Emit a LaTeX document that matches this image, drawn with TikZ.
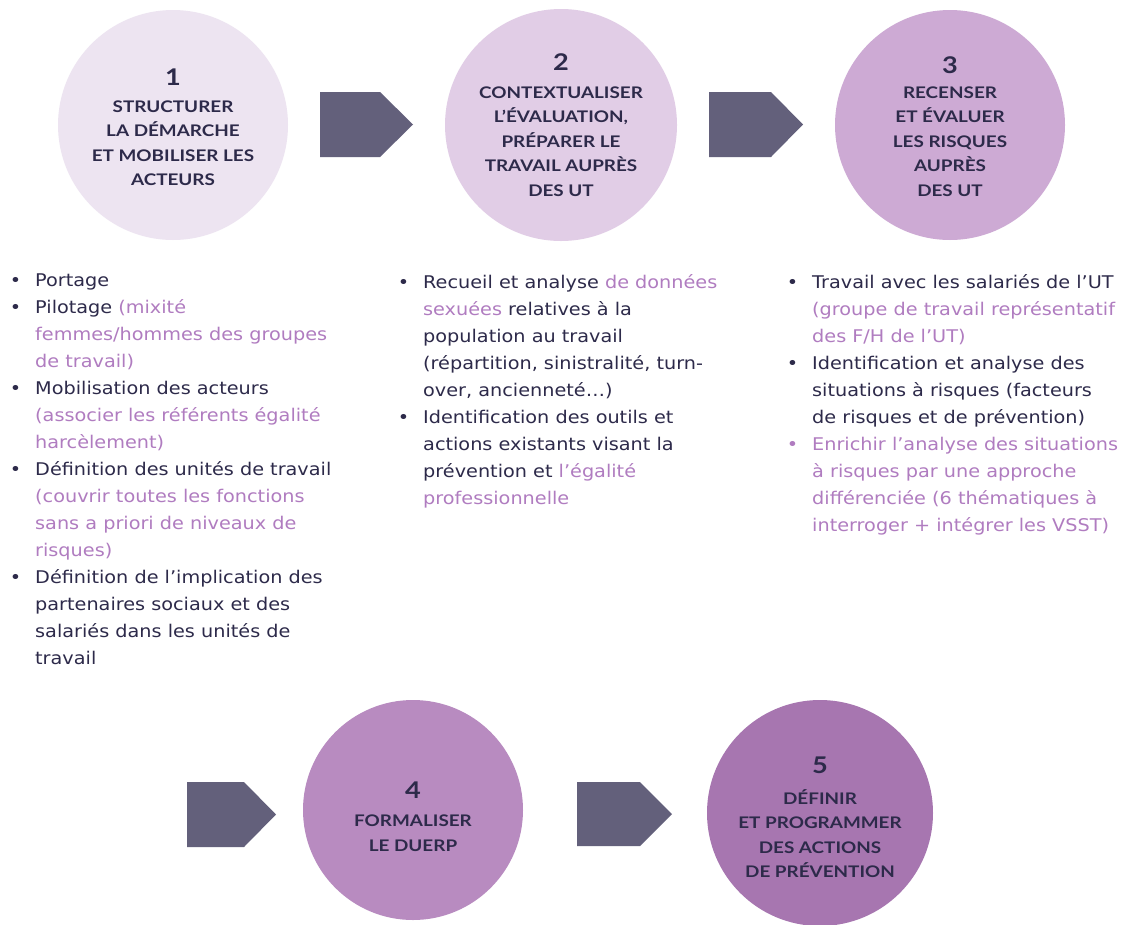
\documentclass[tikz,border=0pt]{standalone}
\usepackage{fontspec}
\setmainfont{Lato}
\newfontfamily\bodyfont{DejaVu Sans}[FakeStretch=1.1]
\newfontfamily\ttlfont{Lato}[FakeStretch=1.18]
\definecolor{cA}{HTML}{EDE4F1}
\definecolor{cB}{HTML}{E1CDE6}
\definecolor{cC}{HTML}{CDAAD4}
\definecolor{cD}{HTML}{B88BC0}
\definecolor{cE}{HTML}{A776B0}
\definecolor{arr}{HTML}{63607B}
\definecolor{dk}{HTML}{2D2A4A}
\definecolor{pk}{HTML}{B07CC0}
\newcommand\pk[1]{\textcolor{pk}{#1}}
\newcommand\bul{\makebox[0pt][r]{•\hspace{14pt}}}
\tikzset{
  disc/.style={circle, inner sep=0pt, minimum size=#1},
  num/.style={text=dk, font=\fontsize{23}{23}\selectfont\ttlfont\bfseries, inner sep=0pt},
  ttl/.style={text=dk, font=\fontsize{16}{24.5}\selectfont\ttlfont\bfseries, align=center, inner sep=0pt},
  lst/.style={text=dk, font=\fontsize{17.5}{27}\selectfont\bodyfont, align=left, inner sep=0pt, anchor=north west},
  chev/.style={fill=arr}
}
\begin{document}
\begin{tikzpicture}[x=1pt,y=-1pt]
\useasboundingbox (0,0) rectangle (1127,924);
\fill[white] (0,0) rectangle (1127,924);

% circles
\node[disc=230pt, fill=cA] (c1) at (173,125) {};
\node[disc=232pt, fill=cB] (c2) at (561,125) {};
\node[disc=230pt, fill=cC] (c3) at (950,125) {};
\node[disc=220pt, fill=cD] (c4) at (413,810) {};
\node[disc=226pt, fill=cE] (c5) at (820,813) {};

% numbers
\node[num] (n1) at (173,77) {1};
\node[num] (n2) at (561,62) {2};
\node[num] (n3) at (950,65) {3};
\node[num] (n4) at (413,790) {4};
\node[num] (n5) at (820,765) {5};

% titles
\node[ttl] (t1) at (173,143) {STRUCTURER\\LA DÉMARCHE\\ET MOBILISER LES\\ACTEURS};
\node[ttl] (t2) at (561,141.5) {CONTEXTUALISER\\L’ÉVALUATION,\\PRÉPARER LE\\TRAVAIL AUPRÈS\\DES UT};
\node[ttl] (t3) at (950,141.5) {RECENSER\\ET ÉVALUER\\LES RISQUES\\AUPRÈS\\DES UT};
\node[ttl] (t4) at (413,833) {FORMALISER\\LE DUERP};
\node[ttl] (t5) at (820,833.5) {DÉFINIR\\ET PROGRAMMER\\DES ACTIONS\\DE PRÉVENTION};

% chevrons
\fill[chev] (320,92) -- (380,92) -- (413,124.5) -- (380,157) -- (320,157) -- cycle;
\fill[chev] (709,92) -- (771,92) -- (803,124.5) -- (771,157) -- (709,157) -- cycle;
\fill[chev] (187,782) -- (244,782) -- (276,814.5) -- (244,847) -- (187,847) -- cycle;
\fill[chev] (577,782) -- (640,782) -- (672,814) -- (640,846) -- (577,846) -- cycle;

% lists
\node[lst] (l1) at (35,274) {%
\bul Portage\\
\bul Pilotage \pk{(mixité}\\
\pk{femmes/hommes des groupes}\\
\pk{de travail)}\\
\bul Mobilisation des acteurs\\
\pk{(associer les référents égalité}\\
\pk{harcèlement)}\\
\bul Définition des unités de travail\\
\pk{(couvrir toutes les fonctions}\\
\pk{sans a priori de niveaux de}\\
\pk{risques)}\\
\bul Définition de l’implication des\\
partenaires sociaux et des\\
salariés dans les unités de\\
travail};

\node[lst] (l2) at (423,274) {%
\bul Recueil et analyse \pk{de données}\\
\pk{sexuées} relatives à la\\
population au travail\\
(répartition, sinistralité, turn-\\
over, ancienneté…)\\
\bul Identification des outils et\\
actions existants visant la\\
prévention et \pk{l’égalité}\\
\pk{professionnelle}};

\node[lst] (l3) at (812,274) {%
\bul Travail avec les salariés de l’UT\\
\pk{(groupe de travail représentatif}\\
\pk{des F/H de l’UT)}\\
\bul Identification et analyse des\\
situations à risques (facteurs\\
de risques et de prévention)\\
\pk{\bul Enrichir l’analyse des situations}\\
\pk{à risques par une approche}\\
\pk{différenciée (6 thématiques à}\\
\pk{interroger + intégrer les VSST)}};
\end{tikzpicture}
\end{document}
